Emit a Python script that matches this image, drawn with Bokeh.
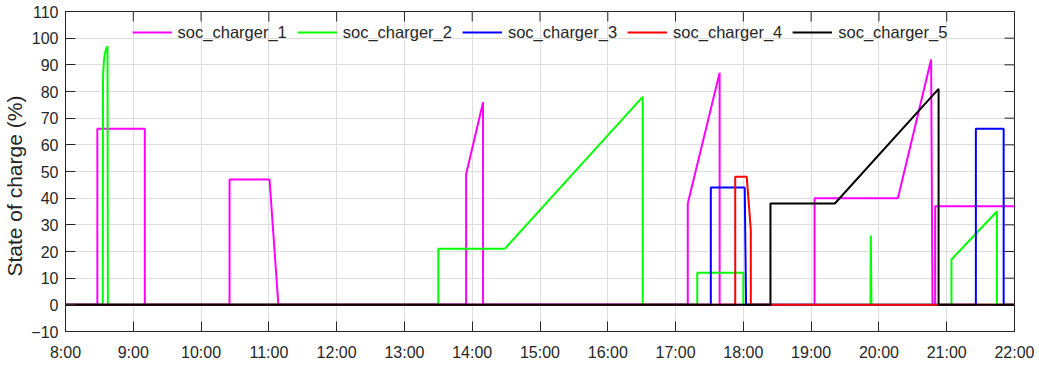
from bokeh.plotting import figure
from bokeh.models import Range1d, FixedTicker, Legend, LegendItem
from bokeh.embed import file_html
from bokeh.resources import INLINE

# ---- data (time in decimal hours, state of charge in %) ----
c1_t = [8.0, 8.47, 8.47, 9.17, 9.17, 10.42, 10.42, 11.01, 11.14, 13.91, 13.91, 14.16, 14.16,
        17.18, 17.18, 17.65, 17.65, 19.05, 19.05, 20.28, 20.77, 20.79, 20.83, 20.83, 22.0]
c1_v = [0, 0, 66, 66, 0, 0, 47, 47, 0, 0, 49, 76, 0,
        0, 38, 87, 0, 0, 40, 40, 92, 0, 0, 37, 37]

c2_t = [8.0, 8.55, 8.553, 8.565, 8.58, 8.60, 8.62, 8.625, 13.50, 13.50, 14.48, 16.515, 16.515,
        17.32, 17.32, 18.0, 18.0, 19.875, 19.88, 19.89, 21.07, 21.07, 21.74, 21.74, 22.0]
c2_v = [0, 0, 85, 91, 94, 96, 97, 0, 0, 21, 21, 78, 0,
        0, 12, 12, 0, 0, 26, 0, 0, 17, 35, 0, 0]

c3_t = [8.0, 17.52, 17.52, 18.02, 18.04, 21.43, 21.43, 21.84, 21.84, 22.0]
c3_v = [0, 0, 44, 44, 0, 0, 66, 66, 0, 0]

c4_t = [8.0, 17.88, 17.88, 18.05, 18.11, 18.11, 22.0]
c4_v = [0, 0, 48, 48, 28, 0, 0]

c5_t = [8.0, 18.40, 18.40, 19.35, 20.88, 20.88, 22.0]
c5_v = [0, 0, 38, 38, 81, 0, 0]

series_names = ["soc_charger_1", "soc_charger_2", "soc_charger_3", "soc_charger_4", "soc_charger_5"]
series_colors = ["#ff00ff", "#00ff00", "#0000ff", "#ff0000", "#000000"]

x_ticks = list(range(8, 23))
x_tick_labels = ["%d:00" % h for h in x_ticks]
y_ticks = list(range(-10, 111, 10))

X0, X1 = 8, 22
Y0, Y1 = -10, 110

FONT = "Liberation Sans"
TXT = "#262626"

p = figure(width=1039, height=365, output_backend="svg", toolbar_location=None,
           x_range=Range1d(X0, X1), y_range=Range1d(Y0, Y1),
           min_border_left=65, min_border_right=25, min_border_top=11, min_border_bottom=34)
p.background_fill_color = "white"
p.outline_line_color = TXT
p.outline_line_width = 1

# grids
p.xgrid.ticker = FixedTicker(ticks=x_ticks)
p.ygrid.ticker = FixedTicker(ticks=y_ticks)
for g in (p.xgrid, p.ygrid):
    g.grid_line_color = "#dedede"
    g.grid_line_width = 1

# axes
xa = p.xaxis[0]
xa.ticker = FixedTicker(ticks=x_ticks)
xa.major_label_overrides = {h: lab for h, lab in zip(x_ticks, x_tick_labels)}
ya = p.yaxis[0]
ya.ticker = FixedTicker(ticks=y_ticks)
# trailing no-break spaces nudge the centred label slightly downward, as in the reference
ya.axis_label = "State of charge (%)" + "\u00a0" * 5
ya.axis_label_text_font = FONT
ya.axis_label_text_font_size = "21px"
ya.axis_label_text_font_style = "normal"
ya.axis_label_text_color = TXT
ya.axis_label_standoff = 2
for ax in (xa, ya):
    ax.major_tick_in = 10
    ax.major_tick_out = 0
    ax.minor_tick_in = 0
    ax.minor_tick_out = 0
    ax.axis_line_color = TXT
    ax.major_tick_line_color = TXT
    ax.major_label_text_font = FONT
    ax.major_label_text_font_size = "16px"
    ax.major_label_text_color = TXT
xa.major_label_standoff = 12
ya.major_label_standoff = 7

# inward ticks on the top and right edges of the box
p.ray(x=x_ticks, y=[Y1] * len(x_ticks), length=10, length_units="screen",
      angle=-90, angle_units="deg", line_color=TXT, line_width=1)
p.ray(x=[X1] * len(y_ticks), y=y_ticks, length=10, length_units="screen",
      angle=180, angle_units="deg", line_color=TXT, line_width=1)

# lines
all_t = [c1_t, c2_t, c3_t, c4_t, c5_t]
all_v = [c1_v, c2_v, c3_v, c4_v, c5_v]
items = []
for name, col, t, v in zip(series_names, series_colors, all_t, all_v):
    r = p.line(t, v, line_color=col, line_width=2)
    items.append(LegendItem(label=name, renderers=[r]))

legend = Legend(items=items, orientation="horizontal", location="top_center",
                glyph_width=40, glyph_height=20, label_standoff=6, spacing=10,
                padding=2, margin=9,
                label_text_font=FONT, label_text_font_size="16.5px", label_text_color=TXT,
                background_fill_alpha=0, border_line_alpha=0)
p.add_layout(legend, "center")

open("out.html", "w").write(file_html(p, INLINE))
